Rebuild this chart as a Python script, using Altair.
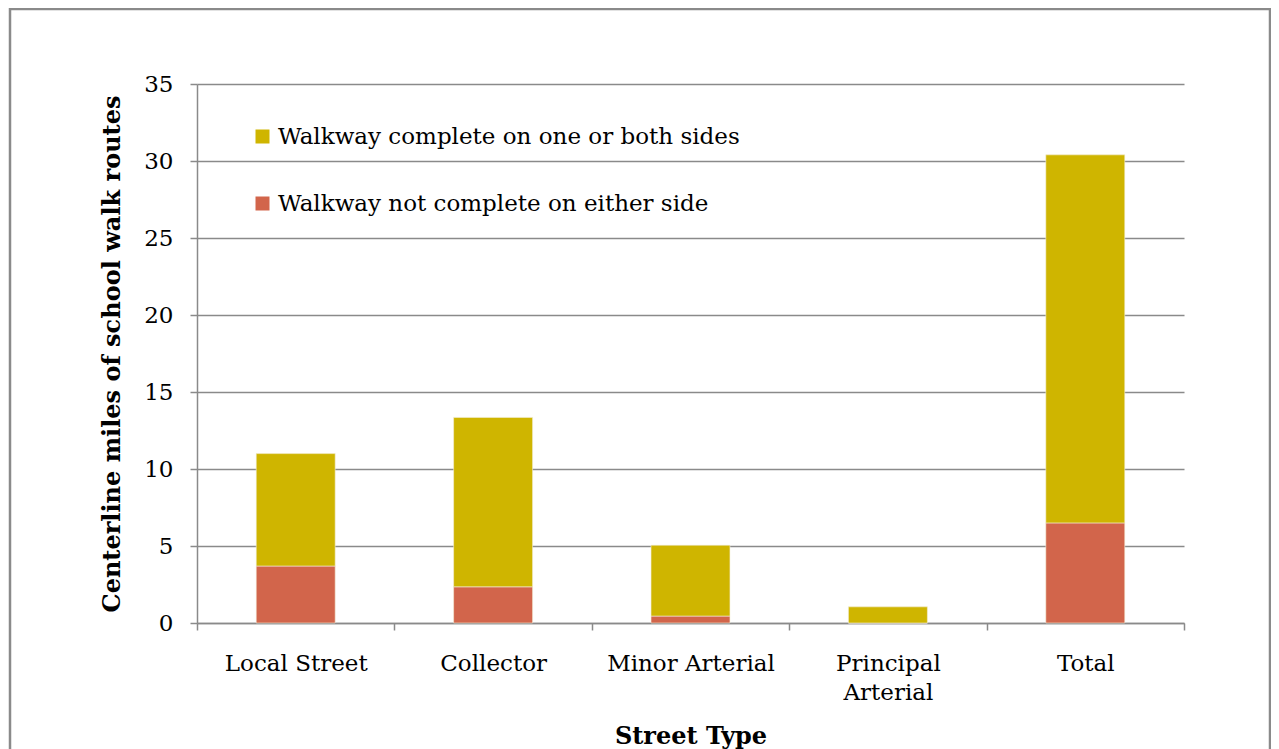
import altair as alt
import pandas as pd

categories = ["Local Street", "Collector", "Minor Arterial", "Principal Arterial", "Total"]
complete_vals = [7.3, 11.0, 4.6, 1.05, 23.9]
not_complete_vals = [3.7, 2.35, 0.45, 0.0, 6.5]
series = ["Walkway complete on one or both sides", "Walkway not complete on either side"]
colors = ["#CFB500", "#D2654B"]
y_ticks = [0, 5, 10, 15, 20, 25, 30, 35]

rows = []
for c, a, b in zip(categories, complete_vals, not_complete_vals):
    rows.append({"cat": c, "series": series[1], "val": b, "ord": 0})
    rows.append({"cat": c, "series": series[0], "val": a, "ord": 1})
df = pd.DataFrame(rows)

FONT = "DejaVu Serif"
GRAY = "#8a8a8a"

bars = alt.Chart(df).mark_bar(
    stroke="#f4efd8", strokeWidth=0.6, width=alt.RelativeBandSize(0.4)
).encode(
    x=alt.X("cat:N", sort=categories,
            scale=alt.Scale(paddingInner=0, paddingOuter=0),
            axis=alt.Axis(title="Street Type", labelAngle=0, tickBand="extent",
                          labelExpr="datum.value == 'Principal Arterial' ? ['Principal', 'Arterial'] : datum.value",
                          labelLineHeight=29, labelPadding=22, tickSize=7,
                          titlePadding=20, titleFontSize=24)),
    y=alt.Y("val:Q", stack="zero",
            scale=alt.Scale(domain=[0, 35], nice=False),
            axis=alt.Axis(title="Centerline miles of school walk routes", values=y_ticks,
                          tickSize=7, labelPadding=17, titlePadding=19, titleFontSize=24)),
    color=alt.Color("series:N", sort=series,
                    scale=alt.Scale(domain=series, range=colors),
                    legend=alt.Legend(title=None, orient="none", legendX=54, legendY=41,
                                      symbolType="square", symbolSize=196, symbolStrokeWidth=0,
                                      labelFontSize=23, labelFont=FONT, rowPadding=43,
                                      labelOffset=4, labelLimit=700)),
    order=alt.Order("ord:Q"),
)

frame = alt.Chart(alt.Data(values=[{}])).mark_rect(
    fill=None, stroke=GRAY, strokeWidth=2.5, clip=False
).encode(
    x=alt.value(-187), x2=alt.value(1073), y=alt.value(-75), y2=alt.value(720)
)

chart = alt.layer(frame, bars).properties(
    width=987, height=539,
    padding={"left": 189, "top": 76, "right": 87, "bottom": 126},
    autosize=alt.AutoSizeParams(type="none"),
).configure_view(stroke=None).configure_axis(
    domainColor=GRAY, domainWidth=1.5, tickColor=GRAY, tickWidth=1.5,
    gridColor=GRAY, gridWidth=1.3, labelFont=FONT, titleFont=FONT,
    labelFontSize=23, labelColor="black", titleColor="black",
    titleFontWeight="bold"
).configure_axisX(grid=False).configure_axisY(grid=True, domain=True)

chart.save("out.html", embed_options={"renderer": "svg", "actions": False})
